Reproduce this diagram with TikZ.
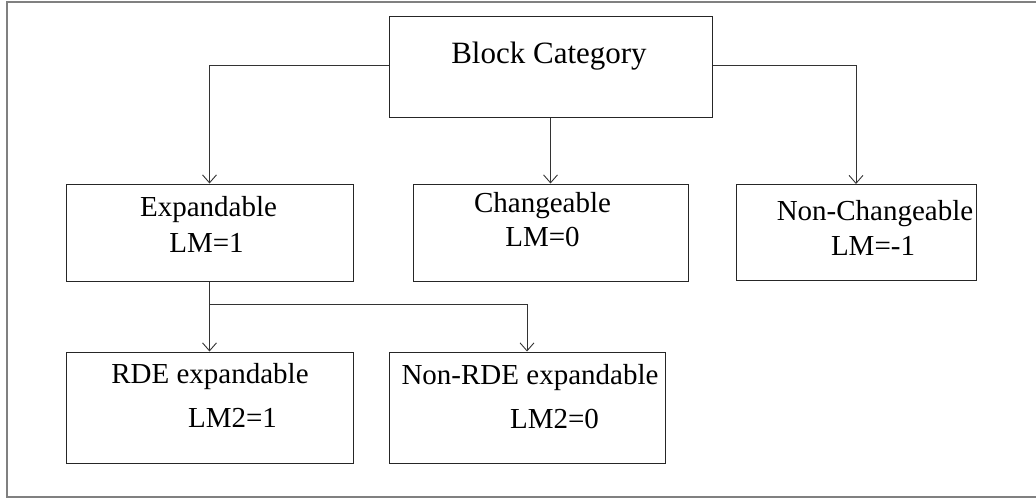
\documentclass[tikz,border=0pt]{standalone}
\usepackage{fontspec}
\setmainfont{Liberation Serif}
\usetikzlibrary{arrows.meta}
\tikzset{
  box/.style={draw=black!85, line width=1pt, rectangle, inner sep=0pt},
  conn/.style={draw=black!80, line width=1pt},
  arr/.style={conn, -{Straight Barb[length=8pt,width=14pt,line width=0.9pt]}},
  lbl/.style={anchor=base, inner sep=0pt, font=\fontsize{29}{34}\selectfont},
  title/.style={anchor=base, inner sep=0pt, font=\fontsize{31}{36}\selectfont},
  frame/.style={draw=black!50, line width=1.5pt}
}
\begin{document}
\begin{tikzpicture}[x=1pt,y=-1pt]
\useasboundingbox (0,0) rectangle (1036,498);
\draw[frame] (1036,2) -- (7,2) -- (7,497) -- (1036,497);

% boxes
\node[box, minimum width=323, minimum height=101] (bc) at (550.5,66.5) {};
\node[box, minimum width=287, minimum height=97] (exp) at (209.5,232.5) {};
\node[box, minimum width=275, minimum height=97] (chg) at (550.5,232.5) {};
\node[box, minimum width=240, minimum height=96] (nc) at (856,232.5) {};
\node[box, minimum width=287, minimum height=111] (rde) at (209.5,407.5) {};
\node[box, minimum width=276, minimum height=111] (nrde) at (527,407.5) {};

% texts
\node[title] (bct) at (549,63) {Block Category};
\node[lbl] (expt1) at (208.5,216) {Expandable};
\node[lbl] (expt2) at (206.5,252) {LM=1};
\node[lbl] (chgt1) at (542.5,212) {Changeable};
\node[lbl] (chgt2) at (542.5,246) {LM=0};
\node[lbl] (nct1) at (875,220) {Non-Changeable};
\node[lbl] (nct2) at (873,255) {LM=-1};
\node[lbl] (rdet1) at (210,383) {RDE expandable};
\node[lbl] (rdet2) at (232.5,427) {LM2=1};
\node[lbl] (nrdet1) at (530,384) {Non-RDE expandable};
\node[lbl] (nrdet2) at (554.5,428) {LM2=0};

% connectors
\draw[arr] ([yshift=1.5pt]bc.west) -| (exp.north);
\draw[arr] ([yshift=1.5pt]bc.east) -| (nc.north);
\draw[arr] (bc.south) -- (chg.north);
\draw[arr] (exp.south) -- (rde.north);
\coordinate (br) at (209.5,304);
\draw[arr] (br) -| (nrde.north);
\end{tikzpicture}
\end{document}
